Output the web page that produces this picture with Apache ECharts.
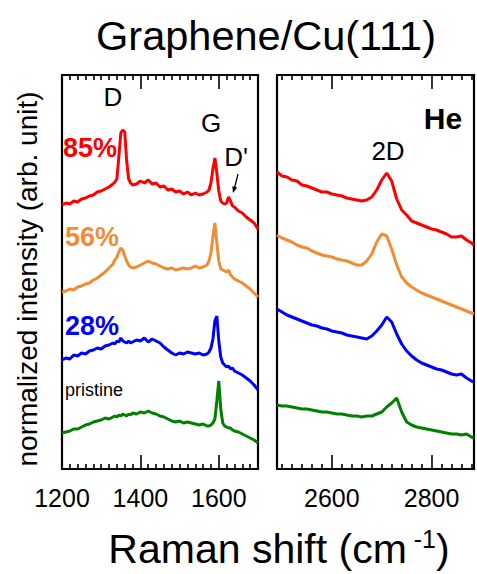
<!DOCTYPE html>
<html><head><meta charset="utf-8">
<script src="https://cdn.jsdelivr.net/npm/echarts@6/dist/echarts.min.js"></script>
<style>html,body{margin:0;padding:0;background:#fff}#c{width:477px;height:574px}</style>
</head><body><div id="c"></div>
<script>
// ---- data (Raman shift in cm^-1, normalized intensity in arbitrary units, curves offset for clarity) ----
const leftShift = [1200,1210,1220,1230,1240,1250,1260,1270,1280,1290,1300,1310,1320,1330,
  1335,1340,1345,1350,1355,1360,1365,1370,1375,1380,
  1390,1400,1410,1420,1430,1440,1450,1460,1470,1480,1490,1500,1510,1520,1530,1540,1550,1560,1570,
  1575,1580,1585,1590,1595,1600,1605,1610,1615,1620,1625,1630,1635,1640,
  1650,1660,1670,1680,1690,1700];
const red85L = [264,266,265,268,267,270,271,273,274,277,278,280,282,285,
  287,290,312,336,339,337,308,290,286,284,
  285,288,286,289,285,286,282,283,279,280,277,278,275,277,274,276,274,275,277,
  279,286,300,311,296,278,268,266,265,266,272,268,263,262,
  258,256,252,249,246,240];
const orange56L = [177,178,180,179,182,183,185,186,189,191,194,197,201,205,
  209,212,217,221,219,213,208,204,202,201,
  202,204,206,208,206,205,203,201,200,201,199,200,201,200,201,203,201,202,204,
  208,216,232,246,226,208,200,199,198,197,199,194,192,190,
  188,186,183,180,176,172];
const blue28L = [109,111,110,114,113,116,115,118,119,121,120,123,124,126,
  125,128,127,131,128,127,126,128,126,127,
  129,128,131,127,130,128,126,122,119,116,114,116,115,117,116,115,116,114,115,
  117,121,130,148,153,128,112,106,104,102,103,100,101,98,
  96,94,91,88,84,79];
const pristineL = [36,37,38,40,40,42,44,45,47,48,49,51,50,52,
  53,52,54,53,55,54,53,55,54,56,
  55,57,56,58,56,55,53,52,50,48,47,48,46,47,46,45,44,45,43,
  43,44,46,50,68,88,60,46,43,42,41,41,39,38,
  37,35,33,31,29,26];

const rightShift = [2490,2500,2510,2520,2530,2540,2550,2560,2570,2580,2590,2600,2610,2620,2630,2640,2650,2660,2670,2680,
  2690,2700,2710,2720,2730,2740,2750,2760,2770,2780,2790,2800,2810,2820,2830,2840,2850,2860,2870,2880,2885];
const red85R = [297,293,292,289,288,284,283,281,279,277,277,275,274,273,271,270,269,268,269,272,
  279,289,296,288,270,259,254,248,246,244,242,240,239,237,235,232,232,233,229,226,224];
const orange56R = [234,231,229,227,224,222,221,218,216,214,213,212,210,209,208,206,204,204,208,215,
  227,235,233,220,204,192,186,182,179,176,174,172,170,168,166,164,162,160,158,156,155];
const blue28R = [160,157,154,152,150,148,146,144,143,141,140,138,137,136,134,133,132,131,130,133,
  138,144,152,147,135,125,118,113,109,106,104,102,100,99,97,95,94,95,91,88,87];
const pristineR = [64,63,63,62,61,60,60,59,58,57,57,56,55,55,54,53,53,52,53,53,
  55,57,62,66,71,57,47,44,42,41,40,39,38,37,36,35,35,34,35,32,31];

const leftMajor = [1200,1400,1600];
const rightMajor = [2600,2800];
const seriesNames = ['85%','56%','28%','pristine'];
const colors = ['#ff0000','#f28c34','#0000ff','#008000'];

// ---- build ----
const FONT = '"Liberation Sans", Arial, Helvetica, sans-serif';
function minorList(a,b,majors){const r=[];for(let v=a;v<=b;v+=20){if(majors.indexOf(v)<0)r.push(v);}return r;}
const leftMinor = minorList(1220,1680,leftMajor);
const rightMinor = minorList(2500,2880,rightMajor);

function xa(grid,min,max,pos,ticks,len,labels){
  return {type:'value',gridIndex:grid,min:min,max:max,position:pos,
    axisLine:{show:false},splitLine:{show:false},
    axisTick:{show:true,inside:true,length:len,customValues:ticks,lineStyle:{color:'#000',width:1.6}},
    axisLabel:labels?{show:true,customValues:labels,formatter:v=>String(v),margin:16,color:'#000',fontSize:25,fontFamily:FONT}:{show:false}};
}
const xAxes=[
  xa(0,1200,1700,'bottom',leftMajor,14,leftMajor),
  xa(0,1200,1700,'bottom',leftMinor,5,null),
  xa(0,1200,1700,'top',leftMajor,14,null),
  xa(0,1200,1700,'top',leftMinor,5,null),
  xa(1,2490,2885,'bottom',rightMajor,14,rightMajor),
  xa(1,2490,2885,'bottom',rightMinor,5,null),
  xa(1,2490,2885,'top',rightMajor,14,null),
  xa(1,2490,2885,'top',rightMinor,5,null)
];
const ya=g=>({type:'value',gridIndex:g,min:0,max:394,axisLine:{show:false},axisTick:{show:false},axisLabel:{show:false},splitLine:{show:false}});

const leftSets=[red85L,orange56L,blue28L,pristineL];
const rightSets=[red85R,orange56R,blue28R,pristineR];
const series=[];
leftSets.forEach((arr,i)=>series.push({name:seriesNames[i],type:'line',xAxisIndex:0,yAxisIndex:0,showSymbol:false,
  data:leftShift.map((x,k)=>[x,arr[k]]),lineStyle:{color:colors[i],width:3},itemStyle:{color:colors[i]}}));
rightSets.forEach((arr,i)=>series.push({name:seriesNames[i],type:'line',xAxisIndex:4,yAxisIndex:1,showSymbol:false,
  data:rightShift.map((x,k)=>[x,arr[k]]),lineStyle:{color:colors[i],width:3},itemStyle:{color:colors[i]}}));

function txt(t,x,y,size,color,weight,extra){
  return Object.assign({type:'text',x:x,y:y,z:10,style:{text:t,fill:color||'#000',font:(weight||'normal')+' '+size+'px '+FONT,align:'center',verticalAlign:'middle'}},extra||{});
}
const graphics=[
  txt('Graphene/Cu(111)',266,35,41.5),
  txt('normalized intensity (arb. unit)',27,279,28,'#000','normal',{rotation:Math.PI/2}),
  {type:'text',x:279,y:549,z:10,style:{text:'Raman shift (cm{s| -1})',font:'normal 41px '+FONT,fill:'#000',align:'center',verticalAlign:'middle',
    rich:{s:{fontSize:25,fontFamily:FONT,verticalAlign:'top',padding:[0,0,20,0]}}}},
  txt('D',113,97,26),
  txt('G',211,123,26),
  txt("D'",236,157,26),
  {type:'line',z:10,shape:{x1:238,y1:174,x2:234.5,y2:188},style:{stroke:'#000',lineWidth:1.3}},
  {type:'polygon',z:10,shape:{points:[[233,193],[237.1,187.6],[232.3,186.3]]},style:{fill:'#000'}},
  txt('85%',90,148,27,colors[0],'bold'),
  txt('56%',92,237,27,colors[1],'bold'),
  txt('28%',92,326,27,colors[2],'bold'),
  txt('pristine',94,390,18,'#000'),
  txt('He',443,118,30,'#000','bold'),
  txt('2D',388,151,26)
];

const chart=echarts.init(document.getElementById('c'),null,{renderer:'svg'});
chart.setOption({
  animation:false,
  backgroundColor:'#fff',
  grid:[
    {left:62,top:75,width:196,height:394,show:true,borderColor:'#000',borderWidth:2.2,backgroundColor:'transparent'},
    {left:277,top:75,width:197,height:394,show:true,borderColor:'#000',borderWidth:2.2,backgroundColor:'transparent'}
  ],
  xAxis:xAxes,
  yAxis:[ya(0),ya(1)],
  series:series,
  graphic:graphics
});
</script></body></html>
